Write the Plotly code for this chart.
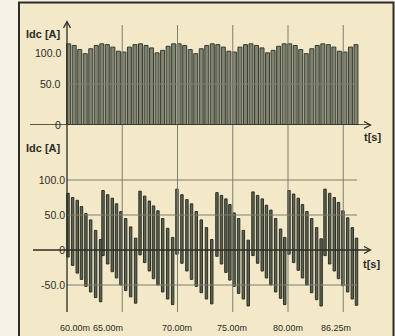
import plotly.graph_objects as go

# ---------------- data ----------------
# upper trace: chopped DC current pulses (time in ms, current in A)
top_t = [60.15, 60.65, 61.15, 61.65, 62.15, 62.65, 63.15, 63.65, 64.15, 64.65,
         65.15, 65.65, 66.15, 66.65, 67.15, 67.65, 68.15, 68.65, 69.15, 69.65,
         70.15, 70.65, 71.15, 71.65, 72.15, 72.65, 73.15, 73.65, 74.15, 74.65,
         75.15, 75.65, 76.15, 76.65, 77.15, 77.65, 78.15, 78.65, 79.15, 79.65,
         80.15, 80.65, 81.15, 81.65, 82.15, 82.65, 83.15, 83.65, 84.15, 84.65,
         85.15, 85.65, 86.15]
top_idc = [99, 97, 92, 87, 93, 97, 99, 98, 95, 90,
           89, 95, 98, 99, 97, 94, 88, 91, 96, 99,
           99, 97, 92, 87, 93, 97, 99, 98, 95, 90,
           89, 95, 98, 99, 97, 94, 88, 91, 96, 99,
           99, 97, 92, 87, 93, 97, 99, 98, 95, 90,
           89, 95, 98]

# lower trace: each pulse spans from a negative to a positive current
bot_t = [60.09, 60.51, 60.93, 61.31, 61.71, 62.14, 62.59, 63.04,
         63.26, 63.68, 64.10, 64.48, 64.88, 65.31, 65.76, 66.21,
         66.61, 67.03, 67.45, 67.83, 68.23, 68.66, 69.11, 69.56,
         69.95, 70.40, 70.85, 71.27, 71.70, 72.15, 72.62, 73.10,
         73.57, 73.98, 74.38, 74.74, 75.12, 75.53, 75.96, 76.40,
         76.83, 77.25, 77.67, 78.05, 78.45, 78.88, 79.33, 79.70,
         80.09, 80.51, 80.93, 81.31, 81.71, 82.14, 82.59, 83.00,
         83.35, 83.77, 84.19, 84.57, 84.97, 85.40, 85.82, 86.20]
bot_hi = [81, 75, 71, 62, 52, 43, 28, 15,
          85, 79, 74, 66, 55, 45, 33, 17,
          84, 77, 70, 63, 56, 45, 31, 18,
          87, 79, 72, 66, 55, 43, 32, 15,
          82, 78, 73, 65, 53, 45, 28, 14,
          83, 78, 73, 64, 57, 45, 30, 18,
          85, 80, 74, 65, 55, 45, 32, 16,
          87, 81, 75, 68, 56, 46, 32, 17]
bot_lo = [-10, -22, -33, -42, -52, -60, -68, -74,
          -8, -20, -31, -40, -50, -58, -67, -76,
          -7, -18, -30, -41, -50, -60, -70, -78,
          -6, -19, -30, -42, -52, -61, -70, -77,
          -9, -20, -32, -43, -52, -62, -70, -80,
          -8, -19, -30, -40, -50, -60, -69, -78,
          -6, -18, -29, -40, -50, -61, -71, -80,
          -8, -20, -30, -41, -51, -60, -70, -79]

x_tick_text = ["60.00m", "65.00m", "70.00m", "75.00m", "80.00m", "86.25m"]
x_grid = [65, 70, 75, 80, 85]
top_grid = [50]
bot_grid = [100, 50, -50]
bot_ticks = [100, 50, 0, -50]
bot_tick_text = ["100.0", "50.0", "0", "-50.0"]

# ---------------- layout geometry ----------------
W, H = 395, 336
def px(x): return x / W
def py(y): return 1 - y / H

XS = 11.05          # px per ms
X0 = 67             # pixel of t = 60 ms
def tx(p): return 60 + (p - X0) / XS   # pixel -> ms

t_end = 86.25
xr = [tx(28), tx(372)]
top_rng = [0, (125 - 22) / 0.82]
bot_rng = [-(312 - 250) / 0.70, (250 - 125) / 0.70]

BG = "#f3e8c8"
PAGE = "#f6f2e8"
INK = "#2b2b26"
GRID = "#7e7e70"
FONT = "Liberation Sans"

fig = go.Figure()

bot_span = [h - l for h, l in zip(bot_hi, bot_lo)]

fig.add_trace(go.Bar(x=top_t, y=top_idc, width=0.36, xaxis="x", yaxis="y",
                     marker=dict(color="#7f8372", line=dict(color="#363b30", width=1)),
                     hoverinfo="skip"))
fig.add_trace(go.Bar(x=bot_t, y=bot_span, base=bot_lo, width=0.22, xaxis="x", yaxis="y2",
                     marker=dict(color="#5c6152", line=dict(color="#2c3127", width=1)),
                     hoverinfo="skip"))

shapes = []
# frame
shapes.append(dict(type="rect", xref="paper", yref="paper", x0=px(19), x1=px(393.5),
                   y0=py(345), y1=py(2.5), fillcolor=BG, line=dict(color="#2e2e2a", width=2),
                   layer="below"))
# vertical grid
for g in x_grid:
    shapes.append(dict(type="line", xref="x", yref="paper", x0=g, x1=g,
                       y0=py(312), y1=py(25), line=dict(color=GRID, width=1), layer="above"))
for g in top_grid:
    shapes.append(dict(type="line", xref="x", yref="y", x0=60, x1=t_end, y0=g, y1=g,
                       line=dict(color=GRID, width=1), layer="above"))
for g in bot_grid:
    shapes.append(dict(type="line", xref="x", yref="y2", x0=60, x1=t_end, y0=g, y1=g,
                       line=dict(color=GRID, width=1), layer="above"))
# axes
shapes.append(dict(type="line", xref="paper", yref="paper", x0=px(X0), x1=px(X0),
                   y0=py(312), y1=py(22), line=dict(color=INK, width=1.3), layer="above"))
shapes.append(dict(type="line", xref="x", yref="y", x0=tx(30), x1=tx(370), y0=0, y1=0,
                   line=dict(color=INK, width=1.3), layer="above"))
shapes.append(dict(type="line", xref="x", yref="y2", x0=tx(33), x1=tx(370), y0=0, y1=0,
                   line=dict(color=INK, width=1.3), layer="above"))
# arrow heads
def chev(points):
    d = "M " + " L ".join(f"{px(a)},{py(b)}" for a, b in points)
    return dict(type="path", xref="paper", yref="paper", path=d,
                line=dict(color=INK, width=1.3), layer="above")
shapes.append(chev([(63.5, 28), (67, 21.5), (70.5, 28)]))
shapes.append(chev([(364, 121.5), (370.5, 125), (364, 128.5)]))
shapes.append(chev([(364, 246.5), (370.5, 250), (364, 253.5)]))

ann = []
def text(s, x, y, size=10.5, bold=False, xanchor="center", fam=FONT):
    ann.append(dict(text=f"<b>{s}</b>" if bold else s, x=px(x), y=py(y), xref="paper",
                    yref="paper", showarrow=False, xanchor=xanchor, yanchor="middle",
                    font=dict(family=fam, size=size, color=INK)))

text("Idc [A]", 43.5, 34.5, size=11, bold=True)
text("Idc [A]", 43.5, 148, size=11, bold=True)
text("t[s]", 372, 137, size=11, bold=True)
text("t[s]", 371, 264, size=11, bold=True)
# upper axis labels
text("100.0", 62.5, 53, size=10.5, xanchor="right")
text("50.0", 62.5, 84, size=10.5, xanchor="right")
text("0", 62.5, 125, size=10.5, xanchor="right")
# time labels
label_px = [74.5, 107.5, 177, 231.5, 288, 336]
for s, p in zip(x_tick_text, label_px):
    text(s, p, 327.5, size=9, fam=FONT)

fig.update_layout(
    width=W, height=H, margin=dict(l=0, r=0, t=0, b=0),
    paper_bgcolor=PAGE, plot_bgcolor="rgba(0,0,0,0)",
    showlegend=False, barmode="overlay", bargap=0,
    xaxis=dict(domain=[px(28), px(372)], range=xr, visible=False, fixedrange=True),
    yaxis=dict(domain=[py(125), py(22)], range=top_rng, showgrid=False, zeroline=False,
               showticklabels=False, fixedrange=True),
    yaxis2=dict(domain=[py(312), py(125)], range=bot_rng, anchor="free", position=px(X0),
                showgrid=False, zeroline=False, showline=False, ticks="",
                tickvals=bot_ticks, ticktext=bot_tick_text, ticklabelstandoff=2,
                tickfont=dict(family=FONT, size=10.5, color=INK), fixedrange=True),
    shapes=shapes, annotations=ann,
)

fig.write_html("out.html", config={"displayModeBar": False, "staticPlot": True},
               post_script="document.body.style.margin='0';document.body.style.overflow='hidden';")
